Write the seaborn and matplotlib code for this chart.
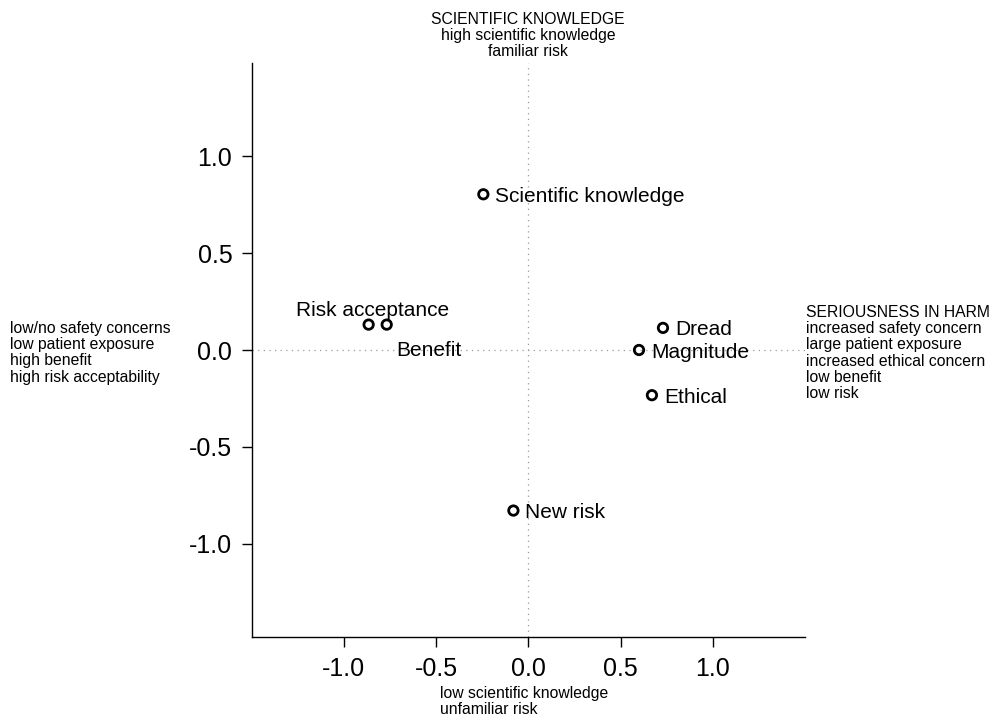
import matplotlib
matplotlib.use("Agg")
import matplotlib.pyplot as plt
import seaborn as sns
import pandas as pd

# ---- data ----
labels = ["Scientific knowledge", "Risk acceptance", "Benefit", "Dread",
          "Magnitude", "Ethical", "New risk"]
dim1 = [-0.244, -0.866, -0.768, 0.730, 0.600, 0.670, -0.081]
dim2 = [0.803, 0.131, 0.131, 0.114, 0.000, -0.233, -0.828]

tick_values = [-1.0, -0.5, 0.0, 0.5, 1.0]
tick_labels = ["-1.0", "-0.5", "0.0", "0.5", "1.0"]

top_text = ["SCIENTIFIC KNOWLEDGE", "high scientific knowledge", "familiar risk"]
bottom_text = ["low scientific knowledge", "unfamiliar risk"]
left_text = ["low/no safety concerns", "low patient exposure", "high benefit",
             "high risk acceptability"]
right_text = ["SERIOUSNESS IN HARM", "increased safety concern",
              "large patient exposure", "increased ethical concern",
              "low benefit", "low risk"]

# ---- label placement (style, in points) ----
label_pos = {
    "Scientific knowledge": ((8.6, 0), "left", "center_baseline"),
    "Risk acceptance": ((2.9, 6.0), "center", "baseline"),
    "Benefit": ((7.0, -17.3), "left", "center_baseline"),
    "Dread": ((8.6, 0), "left", "center_baseline"),
    "Magnitude": ((8.6, 0), "left", "center_baseline"),
    "Ethical": ((8.6, 0), "left", "center_baseline"),
    "New risk": ((8.6, 0), "left", "center_baseline"),
}

sns.set_style("ticks")
plt.rcParams["font.family"] = ["Liberation Sans", "DejaVu Sans"]
plt.rcParams["text.color"] = "black"
plt.rcParams["xtick.color"] = "black"
plt.rcParams["ytick.color"] = "black"
plt.rcParams["xtick.labelcolor"] = "black"
plt.rcParams["ytick.labelcolor"] = "black"

W, H = 993, 716
fig = plt.figure(figsize=(W / 100, H / 100), dpi=100)
ax = fig.add_axes([251.7 / W, 1 - 637 / H, 553.3 / W, 574 / H])

df = pd.DataFrame({"label": labels, "d1": dim1, "d2": dim2})

ax.axhline(0, color="#9a9a9a", lw=0.9, ls=(0, (1, 3.5)), zorder=1)
ax.axvline(0, color="#9a9a9a", lw=0.9, ls=(0, (1, 3.5)), zorder=1)

sns.scatterplot(data=df, x="d1", y="d2", ax=ax, marker="o", s=46,
                facecolors="none", edgecolor="black", linewidth=2.0, zorder=3)

for lab, x, y in zip(labels, dim1, dim2):
    off, ha, va = label_pos[lab]
    ax.annotate(lab, (x, y), xytext=off, textcoords="offset points",
                ha=ha, va=va, fontsize=15, color="black")

ax.set_xlim(-1.5, 1.5)
ax.set_ylim(-1.48, 1.48)
ax.set_xticks(tick_values)
ax.set_xticklabels(tick_labels)
ax.set_yticks(tick_values)
ax.set_yticklabels(tick_labels)
ax.set_xlabel("")
ax.set_ylabel("")
ax.tick_params(axis="both", labelsize=18, length=7.5, width=1, color="black",
               labelcolor="black", direction="out")
ax.tick_params(axis="x", pad=7)
ax.tick_params(axis="y", pad=6.5)
for side in ["top", "right"]:
    ax.spines[side].set_visible(False)
for side in ["left", "bottom"]:
    ax.spines[side].set_color("black")
    ax.spines[side].set_linewidth(1)

fs_small = 11.3
ls_small = 1.1
fig.text(528 / W, 1 - 11.5 / H, "\n".join(top_text), ha="center", va="top",
         fontsize=fs_small, linespacing=ls_small, multialignment="center",
         color="black")
fig.text(440 / W, 1 - 686 / H, "\n".join(bottom_text), ha="left", va="top",
         fontsize=fs_small, linespacing=ls_small, multialignment="left",
         color="black")
fig.text(10 / W, 1 - 321 / H, "\n".join(left_text), ha="left", va="top",
         fontsize=fs_small, linespacing=ls_small, multialignment="left",
         color="black")
fig.text(806 / W, 1 - 305 / H, "\n".join(right_text), ha="left", va="top",
         fontsize=fs_small, linespacing=ls_small, multialignment="left",
         color="black")

fig.savefig("out.png", dpi=100, facecolor="white")
